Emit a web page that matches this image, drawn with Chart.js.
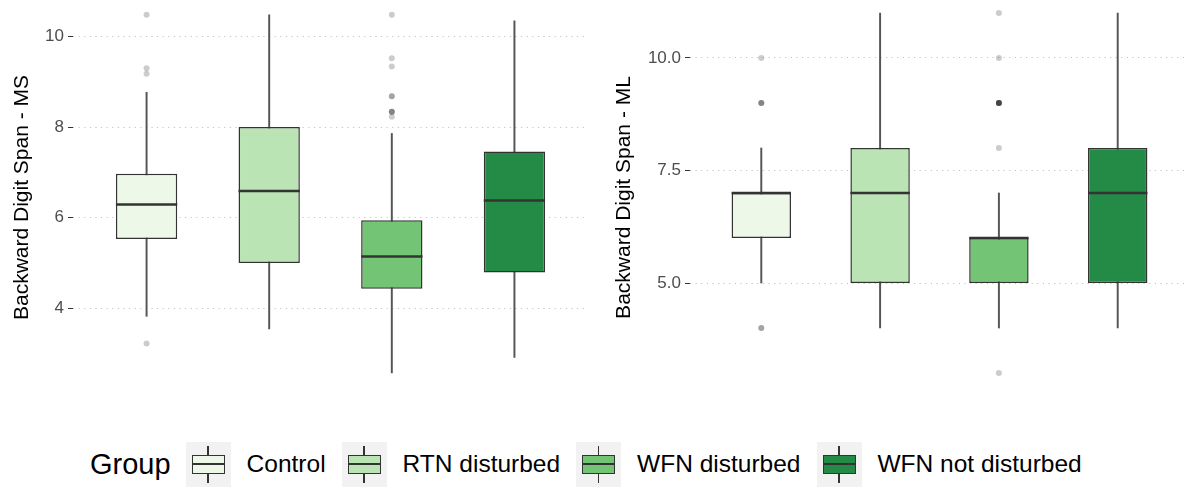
<!DOCTYPE html>
<html>
<head>
<meta charset="utf-8">
<script src="https://cdn.jsdelivr.net/npm/chart.js@4.4.0/dist/chart.umd.min.js"></script>
<style>
  body { margin: 0; background: #fff; width: 1188px; height: 487px; overflow: hidden; position: relative;
         font-family: 'Liberation Sans', Arial, sans-serif; }
  .panel { position: absolute; top: 0; height: 395px; overflow: hidden; }
  #msWrap { left: 0; width: 594px; }
  #mlWrap { left: 594px; width: 594px; }
  #legend { position: absolute; top: 441px; left: 90px; height: 46px; display: flex; align-items: center; }
  #legend .ltitle { font-size: 29px; color: #000; margin-right: 15px; }
  #legend .key { position: relative; width: 45px; height: 45px; background: #f2f2f2; margin-right: 16px; flex: none; }
  #legend .key i { position: absolute; display: block; }
  #legend .key .wh { left: 21.5px; top: 4px; width: 1.5px; height: 37px; background: #333; }
  #legend .key .bx { left: 6px; top: 13px; width: 33px; height: 19px; border: 1.5px solid #333; box-sizing: border-box; }
  #legend .key .md { left: 6px; top: 21.5px; width: 33px; height: 2px; background: #333; }
  #legend .lab { font-size: 24.5px; color: #000; margin-right: 16px; white-space: nowrap; }
</style>
</head>
<body>
<div class="panel" id="msWrap"><canvas id="msChart" width="592" height="395"></canvas></div>
<div class="panel" id="mlWrap"><canvas id="mlChart" width="599" height="395"></canvas></div>
<div id="legend"></div>
<script>
const groups = ['Control', 'RTN disturbed', 'WFN disturbed', 'WFN not disturbed'];
const groupColors = ['#edf8e9', '#bae4b3', '#74c476', '#238b45'];

// Backward Digit Span - MS
const msLow = [3.82, 3.54, 2.57, 2.91];
const msQ1 = [5.53, 5.0, 4.43, 4.79];
const msMedian = [6.29, 6.59, 5.14, 6.38];
const msQ3 = [6.97, 8.0, 5.94, 7.46];
const msHigh = [8.77, 10.48, 7.86, 10.35];
const msOutliers = [
  [10.48, 9.30, 9.18, 3.22],
  [],
  [10.48, 9.52, 9.34, 8.68, 8.68, 8.34, 8.34, 8.34, 8.23],
  []
];
const msTicks = [4, 6, 8, 10];

// Backward Digit Span - ML
const mlLow = [5, 4, 4, 4];
const mlQ1 = [6, 5, 5, 5];
const mlMedian = [7, 7, 6, 7];
const mlQ3 = [7, 8, 6, 8];
const mlHigh = [8, 11, 7, 11];
const mlOutliers = [
  [10, 9, 9, 9, 4, 4],
  [],
  [11, 10, 9, 9, 9, 9, 9, 9, 8, 3],
  []
];
const mlTicks = [5, 7.5, 10];

const font = "'Liberation Sans', Arial, sans-serif";

function boxChart(id, d) {
  const xs = groups.map((g, i) => i + 1);
  const outPts = [];
  d.outliers.forEach((list, i) => list.forEach(v => outPts.push({ x: i + 1, y: v })));

  // median line drawn over each box, through the chart's own scales
  const medianLines = {
    id: 'medianLines',
    afterDatasetsDraw(chart) {
      const boxes = chart.getDatasetMeta(1).data;
      const yScale = chart.scales.y;
      const c = chart.ctx;
      c.save();
      c.strokeStyle = '#333';
      c.lineWidth = 2.5;
      boxes.forEach((bar, i) => {
        const py = yScale.getPixelForValue(d.median[i]);
        c.beginPath();
        c.moveTo(bar.x - bar.width / 2, py);
        c.lineTo(bar.x + bar.width / 2, py);
        c.stroke();
      });
      c.restore();
    }
  };

  return new Chart(document.getElementById(id), {
    type: 'bar',
    data: {
      datasets: [
        {
          label: 'whisker',
          data: xs.map((x, i) => ({ x: x, y: [d.low[i], d.high[i]] })),
          backgroundColor: '#555',
          barThickness: 1.3,
          grouped: false,
          order: 2
        },
        {
          label: 'box',
          data: xs.map((x, i) => ({ x: x, y: [d.q1[i], d.q3[i]] })),
          backgroundColor: groupColors,
          borderColor: '#333',
          borderWidth: 1.5,
          borderSkipped: false,
          barPercentage: 0.5,
          categoryPercentage: 1,
          grouped: false,
          order: 1
        },
        {
          type: 'scatter',
          label: 'outlier',
          data: outPts,
          backgroundColor: 'rgba(0,0,0,0.2)',
          borderWidth: 0,
          pointRadius: 3,
          order: 0
        }
      ]
    },
    options: {
      responsive: false,
      animation: false,
      events: [],
      layout: { padding: 0 },
      plugins: { legend: { display: false }, tooltip: { enabled: false } },
      scales: {
        x: {
          type: 'linear',
          display: false,
          offset: false,
          min: 0.4,
          max: 4.6,
          afterBuildTicks: ax => { ax.ticks = xs.map(v => ({ value: v })); }
        },
        y: {
          min: d.min,
          max: d.max,
          afterBuildTicks: ax => { ax.ticks = d.ticks.map(v => ({ value: v })); },
          afterFit: ax => { ax.width = d.axisWidth; ax.paddingTop = 0; ax.paddingBottom = 0; },
          grid: { color: '#c4c4c4', lineWidth: 1, tickLength: 5, tickColor: '#333', tickWidth: 1, tickBorderDash: [10, 0] },
          border: { display: false, dash: [1.2, 4.4] },
          ticks: { color: '#4d4d4d', font: { size: 17, family: font }, padding: 4, callback: d.fmt },
          title: { display: true, text: d.title, color: '#000', font: { size: 21, family: font }, padding: { top: d.titlePad, bottom: 0 } }
        }
      }
    },
    plugins: [medianLines]
  });
}

boxChart('msChart', {
  low: msLow, q1: msQ1, median: msMedian, q3: msQ3, high: msHigh, outliers: msOutliers,
  ticks: msTicks, min: 2.17, max: 10.72, axisWidth: 73, titlePad: 10,
  title: 'Backward Digit Span - MS', fmt: v => String(v)
});

boxChart('mlChart', {
  low: mlLow, q1: mlQ1, median: mlMedian, q3: mlQ3, high: mlHigh, outliers: mlOutliers,
  ticks: mlTicks, min: 2.6, max: 11.2, axisWidth: 96, titlePad: 18,
  title: 'Backward Digit Span - ML', fmt: v => v.toFixed(1)
});

// legend
const legend = document.getElementById('legend');
legend.innerHTML = '<span class="ltitle">Group</span>' + groups.map((g, i) =>
  '<span class="key"><i class="wh"></i><i class="bx" style="background:' + groupColors[i] + '"></i><i class="md"></i></span>' +
  '<span class="lab">' + g + '</span>').join('');
</script>
</body>
</html>
